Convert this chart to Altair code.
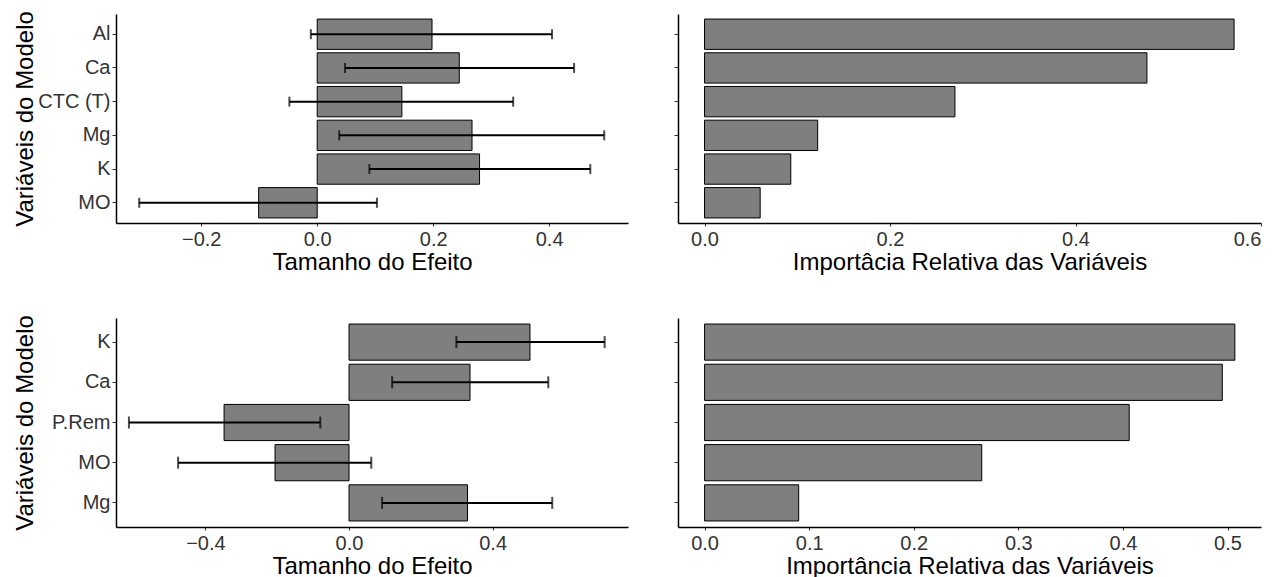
import altair as alt
import pandas as pd

# ---- data ----
top_vars = ["Al", "Ca", "CTC (T)", "Mg", "K", "MO"]
top_effect = [0.198, 0.245, 0.146, 0.267, 0.280, -0.101]
top_lo = [-0.011, 0.048, -0.048, 0.038, 0.090, -0.307]
top_hi = [0.405, 0.443, 0.338, 0.495, 0.471, 0.103]
top_imp = [0.571, 0.477, 0.270, 0.122, 0.093, 0.060]

bot_vars = ["K", "Ca", "P.Rem", "MO", "Mg"]
bot_effect = [0.504, 0.337, -0.348, -0.206, 0.330]
bot_lo = [0.299, 0.120, -0.613, -0.476, 0.092]
bot_hi = [0.712, 0.555, -0.080, 0.062, 0.566]
bot_imp = [0.507, 0.495, 0.406, 0.265, 0.090]

top_effect_ticks = [-0.2, 0.0, 0.2, 0.4]
top_imp_ticks = [0.0, 0.2, 0.4, 0.6]
bot_effect_ticks = [-0.4, 0.0, 0.4]
bot_imp_ticks = [0.0, 0.1, 0.2, 0.3, 0.4, 0.5]

FONT = "Liberation Sans"
GRAY = "#7f7f7f"
LABEL_EXPR = "replace(format(datum.value, '.1f'), '-', '\u2212')"
PH = 209


def yscale():
    return alt.Scale(paddingInner=0.1, paddingOuter=0.15)


def effect_chart(vars_, eff, lo, hi, domain, ticks, width, extent, cap):
    df = pd.DataFrame({"var": vars_, "eff": eff, "lo": lo, "hi": hi})
    yax = alt.Axis(title="Variáveis do Modelo", minExtent=extent, maxExtent=extent,
                   titlePadding=3, labelPadding=2, tickSize=4)
    y = alt.Y("var:N", sort=vars_, scale=yscale(), axis=yax)
    xax = alt.Axis(values=ticks, labelExpr=LABEL_EXPR, title="Tamanho do Efeito",
                   tickSize=3, labelPadding=3, titlePadding=1)
    xs = alt.Scale(domain=domain, nice=False, zero=False)
    base = alt.Chart(df)
    bars = base.mark_bar(fill=GRAY, stroke="black", strokeWidth=1).encode(
        x=alt.X("eff:Q", scale=xs, axis=xax), x2=alt.datum(0), y=y)
    rule = base.mark_rule(color="black", strokeWidth=2).encode(
        x=alt.X("lo:Q", scale=xs, axis=xax), x2="hi:Q", y=y)
    t1 = base.mark_tick(color="black", thickness=2, size=cap).encode(
        x=alt.X("lo:Q", scale=xs, axis=xax), y=y)
    t2 = base.mark_tick(color="black", thickness=2, size=cap).encode(
        x=alt.X("hi:Q", scale=xs, axis=xax), y=y)
    return alt.layer(bars, rule, t1, t2).properties(width=width, height=PH)


def imp_chart(vars_, imp, domain, ticks, title):
    df = pd.DataFrame({"var": vars_, "imp": imp})
    yax = alt.Axis(title=None, labels=False, tickSize=4)
    xax = alt.Axis(values=ticks, labelExpr=LABEL_EXPR, title=title,
                   tickSize=3, labelPadding=3, titlePadding=1)
    return alt.Chart(df).mark_bar(fill=GRAY, stroke="black", strokeWidth=1).encode(
        x=alt.X("imp:Q", scale=alt.Scale(domain=domain, nice=False, zero=False), axis=xax),
        x2=alt.datum(0),
        y=alt.Y("var:N", sort=vars_, scale=yscale(), axis=yax),
    ).properties(width=583, height=PH)


tl = effect_chart(top_vars, top_effect, top_lo, top_hi, [-0.347, 0.536],
                  top_effect_ticks, 512, 76, 10)
tr = imp_chart(top_vars, top_imp, [-0.0286, 0.6], top_imp_ticks,
               "Importâcia Relativa das Variáveis")
bl = effect_chart(bot_vars, bot_effect, bot_lo, bot_hi, [-0.649, 0.777],
                  bot_effect_ticks, 512, 76, 12)
br = imp_chart(bot_vars, bot_imp, [-0.0254, 0.532], bot_imp_ticks,
               "Importância Relativa das Variáveis")

chart = alt.concat(
    alt.hconcat(tl, tr, spacing=45),
    alt.hconcat(bl, br, spacing=45),
    columns=1,
    spacing=40,
).properties(
    padding={"left": 5, "top": 2, "right": 5, "bottom": 5}
).configure_axis(
    labelFont=FONT, titleFont=FONT, labelFontSize=20, titleFontSize=24,
    titleFontWeight="normal", grid=False, domainColor="black", domainWidth=1.5,
    tickColor="#333333", labelColor="#333333", titleColor="black",
).configure_view(stroke=None)

chart.save("out.html", embed_options={"renderer": "svg", "actions": False})
